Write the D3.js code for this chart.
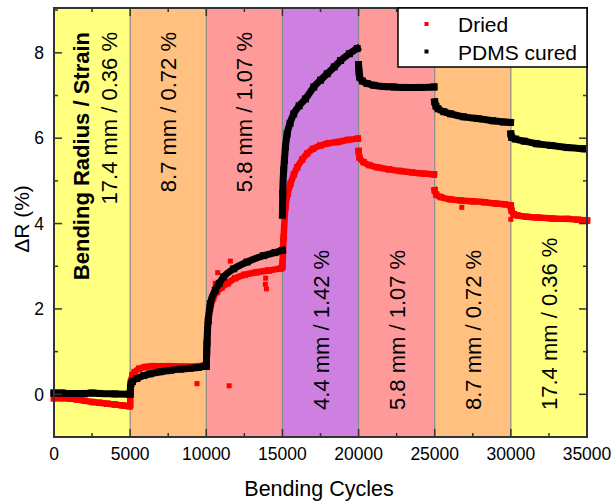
<!DOCTYPE html>
<html><head><meta charset="utf-8">
<script src="https://cdn.jsdelivr.net/npm/d3@7"></script>
<style>
html,body{margin:0;padding:0;background:#fff;}
svg{display:block;font-family:"Liberation Sans",Arial,sans-serif;}
</style></head>
<body><svg id="c" width="613" height="502"></svg>
<script>
// ---- data ----
const bandStarts = [0, 5000, 10000, 15000, 20000, 25000, 30000];
const bandEnds = [5000, 10000, 15000, 20000, 25000, 30000, 35000];
const bandLabels = ["17.4 mm / 0.36 %", "8.7 mm / 0.72 %", "5.8 mm / 1.07 %", "4.4 mm / 1.42 %", "5.8 mm / 1.07 %", "8.7 mm / 0.72 %", "17.4 mm / 0.36 %"];
const bandHeader = "Bending Radius / Strain";
const xTickValues = [0, 5000, 10000, 15000, 20000, 25000, 30000, 35000];
const yTickValues = [0, 2, 4, 6, 8];
const seriesNames = ["Dried", "PDMS cured"];

// Dried: segments of [cycles, ΔR %]
const driedSegments = [
  [[0,-0.09],[500,-0.09],[1000,-0.1],[1500,-0.12],[2000,-0.15],[2500,-0.18],[3000,-0.2],[3500,-0.22],[4000,-0.24],[4500,-0.26],[4950,-0.28]],
  [[5000,-0.25],[5020,0.1],[5060,0.3],[5150,0.45],[5300,0.52],[5600,0.6],[6000,0.64],[6500,0.66],[7500,0.66],[8500,0.65],[9500,0.66],[9980,0.68]],
  [[10000,0.75],[10020,1.0],[10060,1.4],[10120,1.7],[10250,2.0],[10450,2.25],[10700,2.4],[11000,2.5],[11400,2.6],[11900,2.72],[12500,2.8],[13300,2.86],[14100,2.9],[14900,2.95]],
  [[15000,3.0],[15080,3.68],[15200,4.39],[15350,4.7],[15530,4.93],[15750,5.15],[15970,5.32],[16300,5.5],[16620,5.64],[17000,5.75],[17500,5.83],[18000,5.88],[18600,5.91],[19300,5.96],[19950,5.99]],
  [[20000,5.7],[20050,5.55],[20330,5.44],[20700,5.37],[21210,5.32],[22000,5.27],[22760,5.23],[23500,5.2],[24300,5.17],[24950,5.15]],
  [[25000,4.78],[25100,4.68],[25400,4.62],[26000,4.57],[26710,4.54],[27500,4.52],[28250,4.5],[29000,4.47],[29600,4.45],[29960,4.43]],
  [[30000,4.4],[30050,4.3],[30200,4.22],[30440,4.19],[31000,4.16],[31750,4.14],[32700,4.12],[33730,4.11],[34400,4.09],[35000,4.07]]
];
const driedOutliers = [[9390,0.25],[11500,0.2],[10000,0.95],[10000,1.1],[10750,2.85],[11580,3.12],[10590,2.6],[13900,2.72],[13880,2.58],[13950,2.47],[14960,3.1],[14980,3.3],[15000,3.6],[26780,4.38],[30000,4.1]];

// PDMS cured: segments of [cycles, ΔR %]
const pdmsSegments = [
  [[0,0.03],[500,0.03],[1000,0.02],[2000,0.02],[2500,0.03],[3000,0.02],[4000,0.01],[4950,0.0]],
  [[5000,0.0],[5020,0.15],[5060,0.25],[5150,0.3],[5440,0.37],[5900,0.44],[6316,0.48],[7000,0.53],[7630,0.56],[8300,0.59],[8950,0.61],[9500,0.63],[9930,0.66]],
  [[10000,0.66],[10030,1.0],[10050,1.2],[10080,1.5],[10130,1.73],[10263,2.12],[10592,2.44],[10850,2.6],[11140,2.75],[11800,2.94],[12680,3.1],[13770,3.25],[14500,3.32],[14980,3.37]],
  [[15000,4.2],[15020,4.7],[15080,5.25],[15130,5.48],[15200,5.8],[15310,6.1],[15500,6.35],[15740,6.57],[16100,6.76],[16510,6.92],[17060,7.2],[17500,7.36],[17940,7.51],[18400,7.67],[18820,7.82],[19400,7.98],[19910,8.1]],
  [[20000,7.72],[20030,7.55],[20070,7.43],[20250,7.34],[20570,7.28],[21000,7.24],[21660,7.21],[22300,7.2],[22980,7.19],[24000,7.19],[24950,7.2]],
  [[25000,6.85],[25080,6.75],[25220,6.69],[25600,6.62],[26050,6.57],[26900,6.5],[27810,6.46],[28800,6.41],[29500,6.38],[29980,6.37]],
  [[30000,6.1],[30050,6.02],[30300,5.98],[30880,5.93],[31700,5.87],[32630,5.83],[33700,5.78],[34820,5.75]]
];

// ---- styles ----
const bandColors = ["#FFFF80", "#FFC080", "#FF9A9A", "#CE80E0", "#FF9A9A", "#FFC080", "#FFFF80"];
const seriesColors = ["#FF0000", "#000000"];

const svg = d3.select("#c");
const L = 54, R = 587, T = 8, B = 437;
const x = d3.scaleLinear().domain([0, 35000]).range([L, R]);
const y = d3.scaleLinear().domain([-1, 9.05]).range([B, T]);

// bands
svg.append("g").selectAll("rect").data(bandStarts).join("rect")
  .attr("x", (d) => x(d)).attr("y", T)
  .attr("width", (d, i) => x(bandEnds[i]) - x(d)).attr("height", B - T)
  .attr("fill", (d, i) => bandColors[i]);
svg.append("g").selectAll("line").data(bandStarts.slice(1)).join("line")
  .attr("x1", (d) => x(d)).attr("x2", (d) => x(d)).attr("y1", T).attr("y2", B)
  .attr("stroke", "#8a8a8a").attr("stroke-width", 1.2);

// band labels
const fs = 22;
const lab = svg.append("g").attr("font-size", fs).attr("fill", "#000");
bandLabels.forEach((t, i) => {
  const cx = (x(bandStarts[i]) + x(bandEnds[i])) / 2;
  let bx, by, anchor;
  if (i === 0) { bx = 117; }
  else { bx = cx + 8; }
  if (i < 3) { by = 32; anchor = "end"; } else { by = 410; anchor = "start"; }
  lab.append("text").attr("transform", `translate(${bx},${by}) rotate(-90)`)
    .attr("text-anchor", anchor).text(t);
});
lab.append("text").attr("transform", `translate(89,32) rotate(-90)`)
  .attr("text-anchor", "end").attr("font-weight", "bold").text(bandHeader);

// series
const line = d3.line().x((d) => x(d[0])).y((d) => y(d[1])).curve(d3.curveMonotoneX);
function drawSeries(segs, color, w) {
  const g = svg.append("g");
  g.selectAll("path").data(segs).join("path")
    .attr("d", line).attr("fill", "none").attr("stroke", color)
    .attr("stroke-width", w).attr("stroke-linejoin", "round").attr("stroke-linecap", "square");
  g.selectAll("rect").data(segs.flat()).join("rect")
    .attr("x", (d) => x(d[0]) - w / 2).attr("y", (d) => y(d[1]) - w / 2)
    .attr("width", w).attr("height", w).attr("fill", color);
}
drawSeries(driedSegments, seriesColors[0], 6.5);
svg.append("g").selectAll("rect").data(driedOutliers).join("rect")
  .attr("x", (d) => x(d[0]) - 2.5).attr("y", (d) => y(d[1]) - 2.5)
  .attr("width", 5).attr("height", 5).attr("fill", seriesColors[0]);
drawSeries(pdmsSegments, seriesColors[1], 7);

// axes (ticks inward, mirrored)
const xMinor = d3.range(0, 35001, 2500);
const yMinor = d3.range(-1, 9.01, 1);
const ax = svg.append("g").attr("stroke", "#333");
xMinor.forEach((v) => {
  const len = v % 5000 === 0 ? 8 : 4;
  ax.append("line").attr("x1", x(v)).attr("x2", x(v)).attr("y1", B).attr("y2", B - len).attr("stroke-width", 1.5);
  ax.append("line").attr("x1", x(v)).attr("x2", x(v)).attr("y1", T).attr("y2", T + len).attr("stroke-width", 1.5);
});
yMinor.forEach((v) => {
  const len = v % 2 === 0 ? 8 : 4;
  ax.append("line").attr("y1", y(v)).attr("y2", y(v)).attr("x1", L).attr("x2", L + len).attr("stroke-width", 1.5);
  ax.append("line").attr("y1", y(v)).attr("y2", y(v)).attr("x1", R).attr("x2", R - len).attr("stroke-width", 1.5);
});
svg.append("rect").attr("x", L).attr("y", T).attr("width", R - L).attr("height", B - T)
  .attr("fill", "none").attr("stroke", "#333").attr("stroke-width", 2);

const tl = svg.append("g").attr("font-size", 17.5).attr("fill", "#000");
xTickValues.forEach((v) => {
  tl.append("text").attr("x", x(v)).attr("y", 460).attr("text-anchor", "middle").text(v);
});
yTickValues.forEach((v) => {
  tl.append("text").attr("x", 44).attr("y", y(v)).attr("dy", "0.36em").attr("text-anchor", "end").text(v);
});

svg.append("text").attr("x", 319).attr("y", 496).attr("text-anchor", "middle")
  .attr("font-size", 21.5).text("Bending Cycles");
svg.append("text").attr("transform", `translate(29,219) rotate(-90)`).attr("text-anchor", "middle")
  .attr("font-size", 21).text("ΔR (%)");

// legend
const lg = svg.append("g");
lg.append("rect").attr("x", 398).attr("y", 8).attr("width", 189).attr("height", 59)
  .attr("fill", "#fff").attr("stroke", "#000").attr("stroke-width", 1.5);
seriesNames.forEach((n, i) => {
  const cy = 24 + i * 27.5;
  lg.append("rect").attr("x", 424.5).attr("y", cy - 2).attr("width", 4).attr("height", 4).attr("fill", seriesColors[i]);
  lg.append("text").attr("x", 458).attr("y", cy + 8).attr("font-size", 21).text(n);
});
</script></body></html>
